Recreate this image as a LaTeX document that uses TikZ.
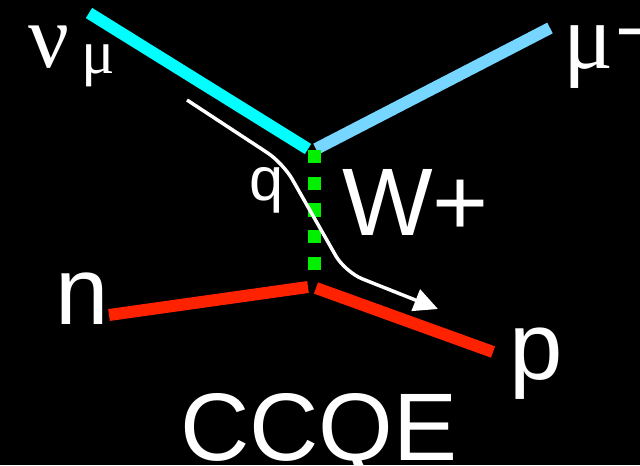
\documentclass[tikz,border=0pt]{standalone}
\usepackage{fontspec}
\setmainfont{Liberation Sans}
\newfontfamily\greekfont{Liberation Serif}
\usetikzlibrary{arrows.meta}
\definecolor{nucyan}{HTML}{00FFFF}
\definecolor{mublue}{HTML}{77D6FF}
\definecolor{wgreen}{HTML}{00F000}
\definecolor{nred}{HTML}{FF2200}
\tikzset{
  particle/.style={line width=9pt, line cap=butt},
  boson/.style={line width=9.75pt, line cap=butt, color=wgreen, dash pattern=on 10pt off 10pt},
  momentum/.style={white, line width=2.6pt, rounded corners=14pt, -{Triangle[length=18pt,width=17pt]}},
  lbl/.style={text=white, inner sep=0pt, anchor=base west},
}
\begin{document}
\begin{tikzpicture}[x=0.75pt,y=-0.75pt]
\fill[black] (0,0) rectangle (640,465);
\useasboundingbox (0,0) rectangle (640,465);
% vertices and free ends
\coordinate (nuin) at (89,13);
\coordinate (nuend) at (308,149);
\coordinate (mustart) at (316,149);
\coordinate (muout) at (550,28);
\coordinate (wtop) at (314,150);
\coordinate (wbot) at (314,270);
\coordinate (nin) at (109,315);
\coordinate (nend) at (308,287);
\coordinate (pstart) at (316,288);
\coordinate (pout) at (493,352);
\coordinate (q0) at (187,100);
\coordinate (q1) at (283,163);
\coordinate (q2) at (345,272);
\coordinate (q3) at (438,309);
% lines
\draw[particle, nucyan] (nuin) -- (nuend);
\draw[particle, mublue] (mustart) -- (muout);
\draw[boson] (wtop) -- (wbot);
\draw[particle, nred] (nin) -- (nend);
\draw[particle, nred] (pstart) -- (pout);
\draw[momentum] (q0) -- (q1) -- (q2) -- (q3);
% labels
\node[lbl, font=\greekfont\fontsize{68pt}{68pt}\selectfont] (nulbl) at (28,67) {ν};
\node[lbl, font=\greekfont\fontsize{47pt}{47pt}\selectfont] (nusub) at (81,73) {μ};
\node[lbl, font=\greekfont\fontsize{70pt}{70pt}\selectfont] (mulbl) at (563,68) {μ};
\node[lbl, font=\fontsize{60pt}{60pt}\selectfont] (musup) at (615,58) {−};
\node[lbl, font=\fontsize{46pt}{46pt}\selectfont] (qlbl) at (249,200) {q};
\node[lbl, font=\fontsize{72pt}{72pt}\selectfont] (wlbl) at (342,235) {W+};
\node[lbl, font=\fontsize{72pt}{72pt}\selectfont] (nlbl) at (55,324) {n};
\node[lbl, font=\fontsize{72pt}{72pt}\selectfont] (plbl) at (509,379) {p};
\node[lbl, font=\fontsize{72pt}{72pt}\selectfont] (ccqe) at (180,460) {CCQE};
\end{tikzpicture}
\end{document}
